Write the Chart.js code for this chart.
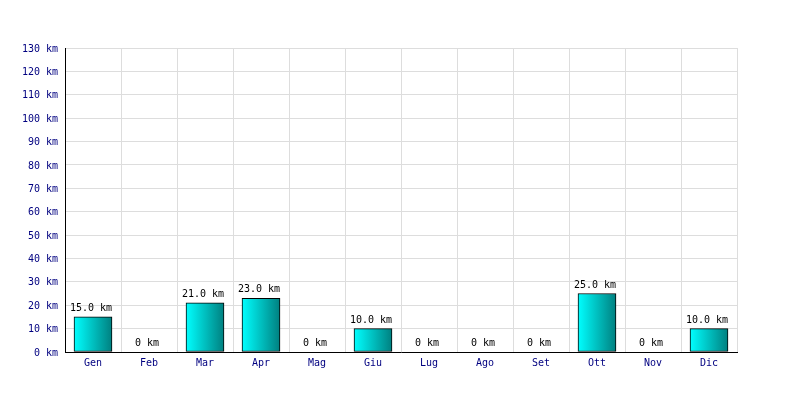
<!DOCTYPE html>
<html>
<head>
<meta charset="utf-8">
<script src="https://cdn.jsdelivr.net/npm/chart.js@4"></script>
<style>
  html, body { margin: 0; padding: 0; background: #fff; }
  #wrap { width: 800px; height: 400px; }
</style>
</head>
<body>
<div id="wrap"><canvas id="chart" width="800" height="400"></canvas></div>
<script>
// ================= DATA =================
const months = ["Gen","Feb","Mar","Apr","Mag","Giu","Lug","Ago","Set","Ott","Nov","Dic"];
const km = [15, 0, 21, 23, 0, 10, 0, 0, 0, 25, 0, 10];
const yTicks = [0,10,20,30,40,50,60,70,80,90,100,110,120,130];

const FONT = "'DejaVu Sans Mono', monospace";
const BAR_W = 38;

// cyan -> teal gradient, set on each bar once the bars are placed
const barGradients = {
  id: "barGradients",
  beforeDatasetsDraw(chart) {
    const meta = chart.getDatasetMeta(0);
    meta.data.forEach(bar => {
      if (!isFinite(bar.x)) return;
      const g = chart.ctx.createLinearGradient(bar.x - BAR_W/2, 0, bar.x + BAR_W/2, 0);
      g.addColorStop(0, "#00ffff");
      g.addColorStop(1, "#008080");
      bar.options = Object.assign({}, bar.options, { backgroundColor: g });
    });
  }
};

// ================= LABELS =================
const valueLabels = {
  id: "valueLabels",
  afterDatasetsDraw(chart) {
    const c = chart.ctx;
    const meta = chart.getDatasetMeta(0);
    c.save();
    c.font = "10px " + FONT;
    c.fillStyle = "#000";
    c.textAlign = "center";
    c.textBaseline = "alphabetic";
    meta.data.forEach((bar, i) => {
      const v = km[i];
      const txt = v === 0 ? "0 km" : v.toFixed(1) + " km";
      c.fillText(txt, bar.x - 2, bar.y - 6);
    });
    c.restore();
  }
};

// ================= CHART =================
new Chart(document.getElementById("chart"), {
  type: "bar",
  data: {
    labels: months,
    datasets: [{
      data: km,
      backgroundColor: "#00cccc",
      borderColor: "#000",
      borderWidth: 1,
      borderSkipped: false,
      barThickness: BAR_W
    }]
  },
  options: {
    responsive: false,
    animation: false,
    layout: { padding: { top: 48, right: 63, left: 0, bottom: 0 } },
    plugins: { legend: { display: false }, tooltip: { enabled: false } },
    scales: {
      x: {
        offset: true,
        grid: { color: "#dddddd", offset: true, drawTicks: false },
        border: { color: "#000", width: 1 },
        ticks: { color: "#000080", font: { family: FONT, size: 10 }, padding: 5 },
        afterFit(s) { s.height = 48; }
      },
      y: {
        min: 0,
        max: 130,
        afterBuildTicks(s) { s.ticks = yTicks.map(v => ({ value: v })); },
        grid: { color: "#dddddd", drawTicks: false },
        border: { color: "#000", width: 1 },
        ticks: {
          color: "#000080",
          font: { family: FONT, size: 10 },
          padding: 7,
          labelOffset: 1,
          callback: v => v + " km"
        },
        afterFit(s) { s.width = 65; }
      }
    }
  },
  plugins: [barGradients, valueLabels]
});
</script>
</body>
</html>
